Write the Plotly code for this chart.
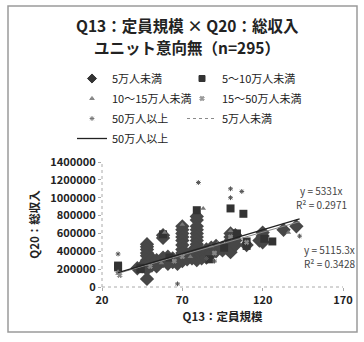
import plotly.graph_objects as go

# ---- data ----
under5_x = [42, 45, 46, 48, 48, 48, 48, 48, 48, 48, 48, 48, 48, 51, 51, 51, 54, 54, 54,
            58, 58, 58, 58, 61, 61, 61, 64, 64, 67, 67,
            70, 70, 70, 70, 70, 70, 70, 70, 70, 70, 73, 73, 76, 76, 76,
            79, 79, 79, 79, 79, 79, 79, 79, 79, 79, 79, 79,
            82, 82, 82, 85, 85, 85, 88, 88, 88, 91, 91, 91, 95, 95,
            100, 100, 100, 100, 100, 100, 100, 103, 103, 103, 110, 118, 120, 120, 120, 133, 141]
under5_y = [210000, 230000, 250000, 480000, 450000, 420000, 380000, 350000, 300000, 260000, 230000, 200000, 90000,
            240000, 280000, 320000, 260000, 300000, 230000,
            580000, 550000, 330000, 290000, 300000, 340000, 260000, 280000, 320000, 300000, 260000,
            680000, 640000, 600000, 560000, 520000, 470000, 420000, 380000, 330000, 290000, 350000, 310000,
            400000, 360000, 320000,
            790000, 750000, 680000, 640000, 600000, 560000, 520000, 480000, 430000, 380000, 340000, 300000,
            320000, 360000, 400000, 330000, 380000, 420000, 400000, 440000, 370000, 420000, 460000, 400000,
            410000, 440000,
            600000, 560000, 520000, 480000, 450000, 420000, 390000, 470000, 520000, 580000, 470000, 520000,
            610000, 570000, 500000, 640000, 680000]

s5_10_x = [30, 30, 44, 44, 79, 100, 108, 110, 110, 126, 121, 96, 58, 62, 87, 104]
s5_10_y = [240000, 220000, 200000, 215000, 860000, 880000, 820000, 510000, 460000, 510000, 540000,
           440000, 590000, 330000, 310000, 600000]

s10_15_x = [30, 30, 83, 59, 92, 100, 136, 57, 75, 70, 88]
s10_15_y = [170000, 150000, 880000, 610000, 490000, 630000, 610000, 270000, 340000, 700000, 460000]

s15_50_x = [31, 70, 90, 100, 50, 65, 110]
s15_50_y = [130000, 340000, 380000, 560000, 230000, 290000, 500000]

s50_x = [30, 80, 100, 100, 107, 67, 90, 143, 85]
s50_y = [370000, 1170000, 1100000, 1000000, 1070000, 35000, 290000, 570000, 320000]

trend_names = ["5万人未満", "50万人以上"]
trend_slopes = [5115.3, 5331.0]
trend_r2 = [0.3428, 0.2971]
trend_x = [30, 143]

series_names = ["5万人未満", "5～10万人未満", "10～15万人未満", "15～50万人未満", "50万人以上"]
title_lines = ["Q13：定員規模 × Q20：総収入", "ユニット意向無（n=295）"]

FONT = "Noto Sans CJK JP"
TXT = "#222222"

fig = go.Figure()

series = [
    (under5_x, under5_y, "diamond", 11, "#474747"),
    (s5_10_x, s5_10_y, "square", 8, "#333333"),
    (s10_15_x, s10_15_y, "triangle-up", 5, "#777777"),
    (s15_50_x, s15_50_y, "x", 4, "#888888"),
    (s50_x, s50_y, "asterisk-open", 4, "#555555"),
]
for (xs, ys, sym, sz, col), nm in zip(series, series_names):
    fig.add_trace(go.Scatter(x=xs, y=ys, mode="markers", name=nm, showlegend=False,
                             marker=dict(symbol=sym, size=sz, color=col,
                                         line=dict(width=1, color=col) if sym in ("x", "asterisk-open") else dict(width=0))))

trend_styles = [dict(color="#8a8a8a", width=1), dict(color="#222222", width=1.3)]
for nm, k, st in zip(trend_names, trend_slopes, trend_styles):
    fig.add_trace(go.Scatter(x=trend_x, y=[k * v for v in trend_x], mode="lines",
                             line=st, showlegend=False, hoverinfo="skip"))

# legend proxies
legend_marks = [
    ("5万人未満", "diamond", 7, "#333333", "legend"),
    ("5～10万人未満", "square", 6, "#333333", "legend2"),
    ("10～15万人未満", "triangle-up", 4, "#888888", "legend"),
    ("15～50万人未満", "x", 4, "#999999", "legend2"),
    ("50万人以上", "asterisk-open", 4, "#777777", "legend"),
]
for i, (nm, sym, sz, col, lg) in enumerate(legend_marks):
    fig.add_trace(go.Scatter(x=[None], y=[None], mode="markers", name=nm, legend=lg, legendgroup=f"g{i}",
                             marker=dict(symbol=sym, size=sz, color=col, line=dict(width=1, color=col))))
fig.add_trace(go.Scatter(x=[None], y=[None], mode="lines", name=trend_names[0], legend="legend2",
                         legendgroup="t0", line=dict(color="#8a8a8a", width=1, dash="dot")))
fig.add_trace(go.Scatter(x=[None], y=[None], mode="lines", name=trend_names[1], legend="legend",
                         legendgroup="t1", line=dict(color="#222222", width=1.3)))

L, R, T, B = 102, 21, 162, 55
W, H = 364, 342
pw, ph = W - L - R, H - T - B

def px(xp):
    return (xp - L) / pw

def py(yp):
    return (H - B - yp) / ph

leg_font = dict(family=FONT, size=11, color=TXT)
fig.update_layout(
    width=W, height=H,
    margin=dict(l=L, r=R, t=T, b=B),
    paper_bgcolor="white", plot_bgcolor="white",
    font=dict(family=FONT, color=TXT),
    legend=dict(x=px(72), y=py(64), xanchor="left", yanchor="top", font=leg_font,
                bgcolor="rgba(0,0,0,0)", itemclick=False, tracegroupgap=1),
    legend2=dict(x=px(182), y=py(64), xanchor="left", yanchor="top", font=leg_font,
                 bgcolor="rgba(0,0,0,0)", itemclick=False, tracegroupgap=1),
    xaxis=dict(range=[20, 170], dtick=50, tick0=20, showgrid=False, zeroline=False, showline=False,
               ticks="outside", ticklen=3, tickcolor="#aaaaaa",
               tickfont=dict(family=FONT, size=11, color=TXT, weight="bold"),
               title=dict(text="Q13：定員規模", standoff=6,
                          font=dict(family=FONT, size=11.5, color=TXT, weight="bold"))),
    yaxis=dict(range=[0, 1400000], dtick=200000, showgrid=False, zeroline=False, showline=False,
               ticks="outside", ticklen=3, tickcolor="#aaaaaa", tickformat="d",
               tickfont=dict(family=FONT, size=11, color=TXT, weight="bold"),
               title=dict(text="Q20：総収入", standoff=8,
                          font=dict(family=FONT, size=11.5, color=TXT, weight="bold"))),
    shapes=[
        dict(type="rect", xref="paper", yref="paper", x0=px(8), x1=px(357), y0=py(332), y1=py(6),
             line=dict(color="#9a9a9a", width=1.5), fillcolor="rgba(0,0,0,0)", layer="above"),
        dict(type="line", xref="paper", yref="paper", x0=0, x1=0, y0=0, y1=1,
             line=dict(color="#aaaaaa", width=1, dash="dot")),
        dict(type="line", xref="paper", yref="paper", x0=0, x1=1, y0=0, y1=0,
             line=dict(color="#aaaaaa", width=1, dash="dot")),
    ],
)

# title lines
for txt, yc in zip(title_lines, [25, 47]):
    fig.add_annotation(text=f"<b>{txt}</b>", xref="paper", yref="paper", x=px(187), y=py(yc),
                       xanchor="center", yanchor="middle", showarrow=False,
                       font=dict(family=FONT, size=15.5, color=TXT))

ann_font = dict(family=FONT, size=10, color="#444444")
eq_items = [
    (f"y = {trend_slopes[1]:g}x", 343, 190.5),
    (f"R² = {trend_r2[1]}", 348, 204),
    (f"y = {trend_slopes[0]:g}x", 356, 249.5),
    (f"R² = {trend_r2[0]}", 356, 263.5),
]
for txt, xr, yc in eq_items:
    fig.add_annotation(text=txt, xref="paper", yref="paper", x=px(xr), y=py(yc),
                       xanchor="right", yanchor="middle", showarrow=False, font=ann_font, borderpad=0)

fig.write_html("out.html", config={"displayModeBar": False},
               post_script="document.body.style.margin='0';")
